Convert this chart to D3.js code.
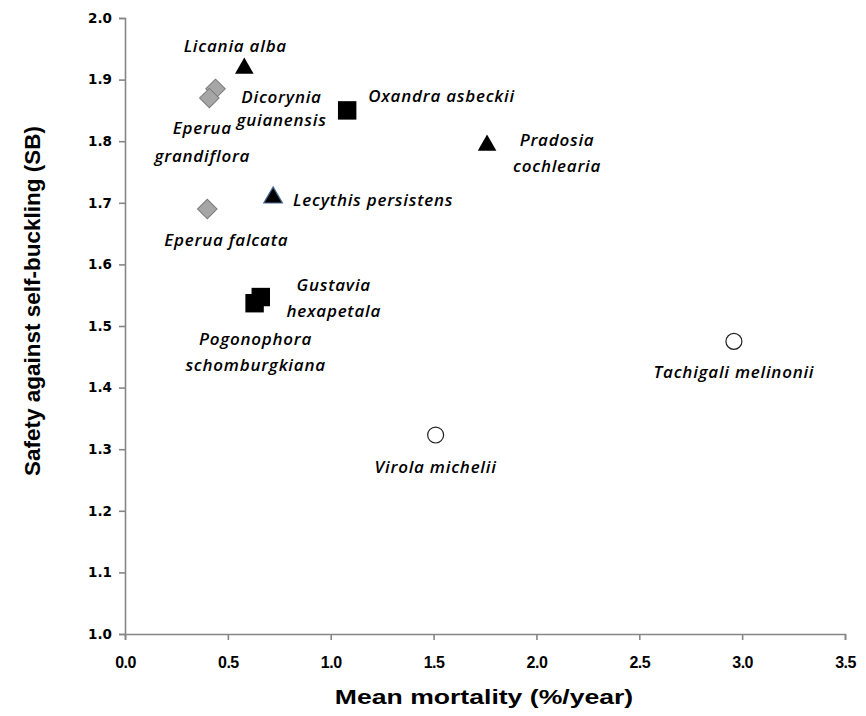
<!DOCTYPE html>
<html><head><meta charset="utf-8">
<script src="https://cdn.jsdelivr.net/npm/d3@7"></script>
<style>
body{margin:0;background:#fff;}
svg{display:block;}
</style></head>
<body>
<svg id="c" width="866" height="716"></svg>
<script>
// ---- data ----
const species   = ["Licania alba","Dicorynia guianensis","Eperua grandiflora","Oxandra asbeckii","Pradosia cochlearia","Lecythis persistens","Eperua falcata","Gustavia hexapetala","Pogonophora schomburgkiana","Tachigali melinonii","Virola michelii"];
const mortality = [0.58, 0.44, 0.41, 1.08, 1.76, 0.72, 0.40, 0.66, 0.63, 2.96, 1.51];
const safetySB  = [1.92, 1.885, 1.87, 1.85, 1.795, 1.71, 1.69, 1.547, 1.537, 1.475, 1.323];
const shapeType = ["triangle","diamond","diamond","square","triangle","triangle","diamond","square","square","circle","circle"];
const xTicks = [0,0.5,1,1.5,2,2.5,3,3.5];
const yTicks = [1.0,1.1,1.2,1.3,1.4,1.5,1.6,1.7,1.8,1.9,2.0];

// ---- label layout (pixel offsets from marker) ----
const labelLayout = {
  "Licania alba":               {lines:["Licania alba"], dx:-9, dy:[-21], anchor:"middle"},
  "Dicorynia guianensis":       {lines:["Dicorynia","guianensis"], dx:66, dy:[8,31], anchor:"middle"},
  "Eperua grandiflora":         {lines:["Eperua","grandiflora"], dx:-7, dy:[30,58], anchor:"middle"},
  "Oxandra asbeckii":           {lines:["Oxandra asbeckii"], dx:21, dy:[-14], anchor:"start"},
  "Pradosia cochlearia":        {lines:["Pradosia","cochlearia"], dx:70, dy:[-4,22], anchor:"middle"},
  "Lecythis persistens":        {lines:["Lecythis persistens"], dx:20, dy:[3], anchor:"start"},
  "Eperua falcata":             {lines:["Eperua falcata"], dx:19, dy:[31], anchor:"middle"},
  "Gustavia hexapetala":        {lines:["Gustavia","hexapetala"], dx:73, dy:[-12,14], anchor:"middle"},
  "Pogonophora schomburgkiana": {lines:["Pogonophora","schomburgkiana"], dx:1, dy:[36,62], anchor:"middle"},
  "Tachigali melinonii":        {lines:["Tachigali melinonii"], dx:0, dy:[31], anchor:"middle"},
  "Virola michelii":            {lines:["Virola michelii"], dx:0, dy:[32], anchor:"middle"}
};

const svg = d3.select("#c");
const x = d3.scaleLinear().domain([0,3.5]).range([125,845]);
const y = d3.scaleLinear().domain([1,2]).range([634,18]);
const axisColor = "#868686";

// axes
const gx = svg.append("g").attr("transform","translate(0,634)")
  .call(d3.axisBottom(x).tickValues(xTicks).tickFormat(d3.format(".1f")).tickSizeOuter(0).tickSize(6));
const gy = svg.append("g").attr("transform","translate(125,0)")
  .call(d3.axisLeft(y).tickValues(yTicks).tickFormat(d3.format(".1f")).tickSizeOuter(0).tickSize(6));
[gx,gy].forEach(g=>{
  g.select(".domain").attr("stroke",axisColor).attr("stroke-width",1.6);
  g.selectAll(".tick line").attr("stroke",axisColor).attr("stroke-width",1.6);
});
gx.selectAll(".tick text").attr("font-family","'Liberation Sans',Arial,sans-serif")
  .attr("font-weight","bold").attr("font-size",16).attr("fill","#000").attr("y",34).attr("dy",0)
  .attr("letter-spacing",-0.5);
gy.selectAll(".tick text").attr("font-family","'DejaVu Sans',sans-serif")
  .attr("font-weight","bold").attr("font-size",13.5).attr("fill","#000").attr("x",-13);

// axis titles
svg.append("text").attr("transform","translate(484,704) scale(1.33,1)").attr("text-anchor","middle")
  .attr("font-family","'Liberation Sans',Arial,sans-serif").attr("font-weight","bold")
  .attr("font-size",20).text("Mean mortality (%/year)");
svg.append("text").attr("transform","translate(40,301) rotate(-90)").attr("text-anchor","middle")
  .attr("font-family","'Liberation Sans',Arial,sans-serif").attr("font-weight","bold")
  .attr("font-size",22.5).text("Safety against self-buckling (SB)");

// markers
const data = species.map((s,i)=>({name:s, mx:mortality[i], sb:safetySB[i], shape:shapeType[i]}));
const symMap = {triangle:d3.symbolTriangle, square:d3.symbolSquare, diamond:d3.symbolSquare, circle:d3.symbolCircle};
const sizeMap = {triangle:150, square:340, diamond:190, circle:200};
const pts = svg.append("g");
data.forEach(d=>{
  const px = x(d.mx), py = y(d.sb);
  const p = pts.append("path")
    .attr("d", d3.symbol().type(symMap[d.shape]).size(sizeMap[d.shape])())
    .attr("transform", d.shape==="diamond" ? `translate(${px},${py}) rotate(45)` :
                      d.shape==="triangle" ? `translate(${px},${py+1})` : `translate(${px},${py})`);
  if(d.shape==="triangle"){ p.attr("fill","#000").attr("stroke", d.name==="Lecythis persistens" ? "#4a6a95":"none").attr("stroke-width",1.2); }
  else if(d.shape==="square"){ p.attr("fill","#000"); }
  else if(d.shape==="diamond"){ p.attr("fill","#a6a6a6").attr("stroke","#7a7a7a").attr("stroke-width",1); }
  else { p.attr("fill","#fff").attr("stroke","#222").attr("stroke-width",1.2); }
});

// labels
const lab = svg.append("g").attr("font-family","'Open Sans',sans-serif").attr("font-style","italic")
  .attr("font-weight",600).attr("font-size",17).attr("letter-spacing",0.75).attr("fill","#000");
data.forEach(d=>{
  const L = labelLayout[d.name];
  const px = x(d.mx), py = y(d.sb);
  L.lines.forEach((t,i)=>{
    lab.append("text").attr("x",px+L.dx).attr("y",py+L.dy[i]).attr("dy","0.35em")
      .attr("text-anchor",L.anchor).text(t);
  });
});
</script>
</body></html>
